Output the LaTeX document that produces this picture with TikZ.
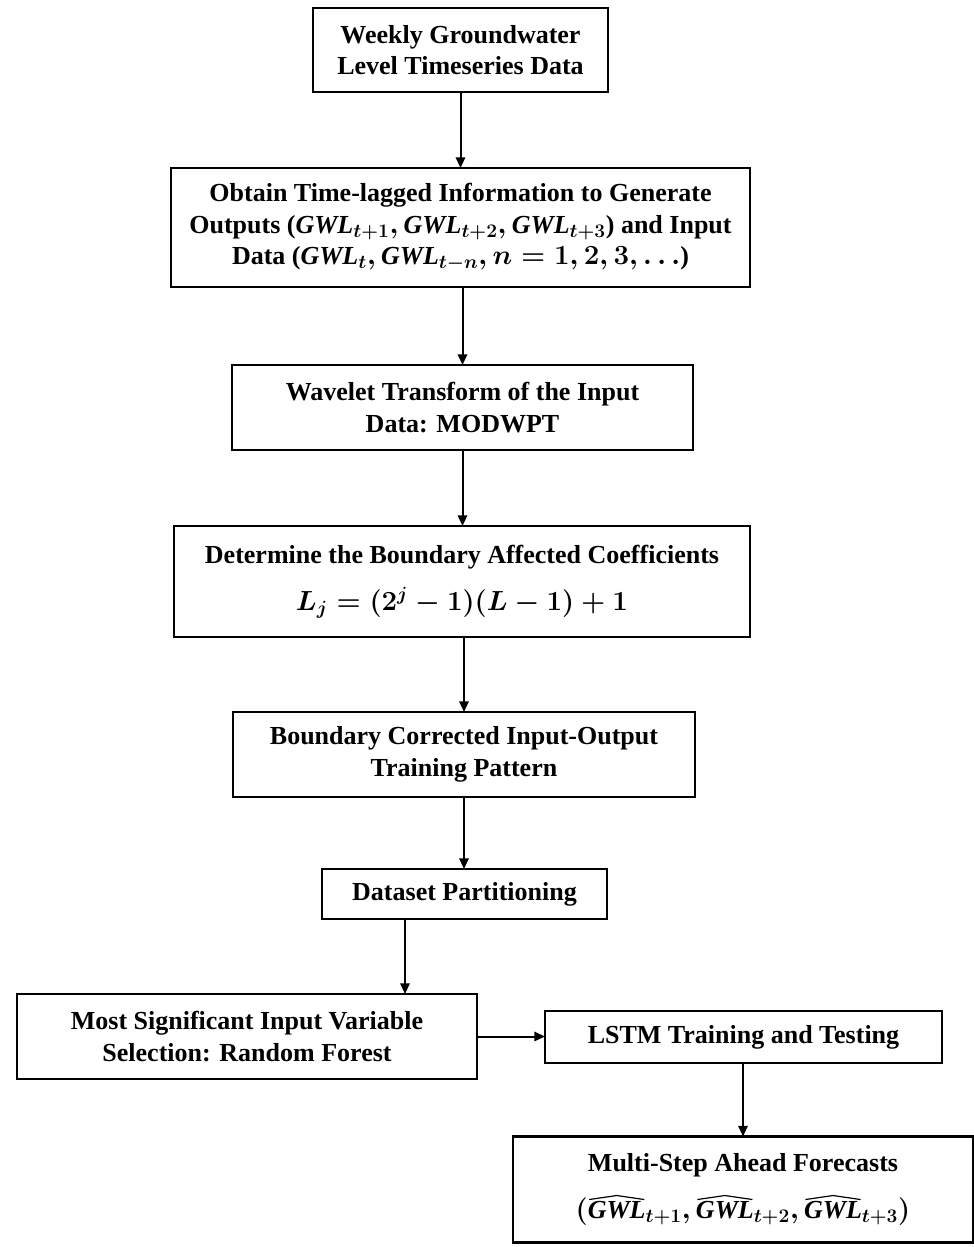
\documentclass[tikz,border=0pt]{standalone}
\usepackage{fontspec}
\setmainfont{Liberation Serif}
\usetikzlibrary{arrows.meta}
\newcommand{\gwl}{\textbf{\textit{GWL}}}
\newcommand{\hgwl}{\mathord{\tikz[baseline=(g.base)]{\node[draw=none, minimum width=0pt, minimum height=0pt, align=none, inner sep=0pt, outer sep=0pt] (g) {\gwl};
  \draw[line width=0.9pt, line join=round] ([yshift=1.5pt,xshift=1pt]g.north west) -- ([yshift=4.5pt]g.north) -- ([yshift=1.5pt,xshift=-1pt]g.north east);}}}
\tikzset{
  flowbox/.style={draw, line width=1.9pt, inner sep=0pt, outer sep=0pt, align=center,
    font=\fontsize{19.5}{23.5}\selectfont\bfseries\boldmath},
  flowarrow/.style={line width=1.5pt, -{Triangle[length=8pt,width=7pt]}}
}
\begin{document}
\begin{tikzpicture}[x=0.75pt,y=-0.75pt]
\useasboundingbox (0,0) rectangle (974,1247);
\node[flowbox, minimum width=221.25pt, minimum height=63pt] (b1) at (460.5,50)
  {Weekly Groundwater\\Level Timeseries Data};
\node[flowbox, minimum width=434.25pt, minimum height=89.25pt] (b2) at (460.5,227.5)
  {Obtain Time-lagged Information to Generate\\
   Outputs ($\gwl_{t+1}, \gwl_{t+2}, \gwl_{t+3}$) and Input\\
   Data ($\gwl_{t}, \gwl_{t-n}, n=1,2,3,\ldots$)};
\node[flowbox, minimum width=345.75pt, minimum height=63.75pt] (b3) at (462.5,407.5)
  {Wavelet Transform of the Input\\Data: MODWPT};
\node[flowbox, minimum width=432pt, minimum height=83.25pt] (b4) at (462,581.5)
  {Determine the Boundary Affected Coefficients\\[12pt]
   $L_j=\bigl(2^j-1\bigr)(L-1)+1$};
\node[flowbox, minimum width=346.5pt, minimum height=63.75pt] (b5) at (464,754.5)
  {Boundary Corrected Input-Output\\Training Pattern};
\node[flowbox, minimum width=213.75pt, minimum height=37.5pt] (b6) at (464.5,894)
  {Dataset Partitioning};
\node[flowbox, minimum width=345pt, minimum height=63.75pt] (b7) at (247,1036.5)
  {Most Significant Input Variable\\Selection: Random Forest};
\node[flowbox, minimum width=297.75pt, minimum height=39pt] (b8) at (743.5,1037)
  {LSTM Training and Testing};
\node[flowbox, minimum width=345pt, minimum height=79.5pt] (b9) at (743,1189.5)
  {Multi-Step Ahead Forecasts\\[12pt]
   $\bigl(\hgwl_{t+1}, \hgwl_{t+2}, \hgwl_{t+3}\bigr)$};
\coordinate (ax) at (405,0);
\draw[flowarrow] (b1.south) -- (b2.north -| b1.south);
\draw[flowarrow] (b2.south -| b3.north) -- (b3.north);
\draw[flowarrow] (b3.south) -- (b4.north -| b3.south);
\draw[flowarrow] (b4.south -| b5.north) -- (b5.north);
\draw[flowarrow] (b5.south) -- (b6.north -| b5.south);
\draw[flowarrow] (b6.south -| ax) -- (b7.north -| ax);
\draw[flowarrow] (b7.east) -- (b8.west |- b7.east);
\draw[flowarrow] (b8.south -| b9.north) -- (b9.north);
\end{tikzpicture}
\end{document}
